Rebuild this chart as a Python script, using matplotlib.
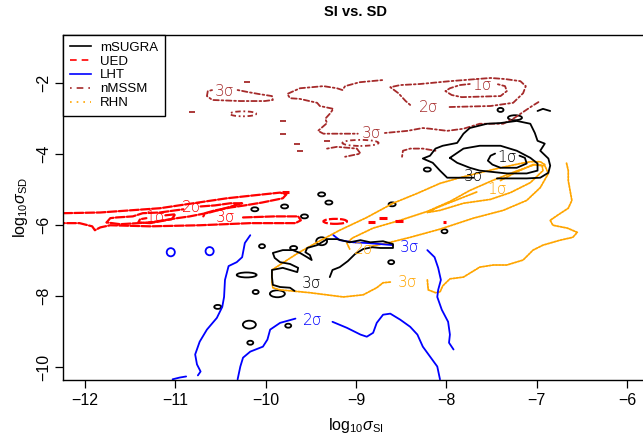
"""
SI vs. SD — confidence contours for five models, redrawn with matplotlib.
Contour paths are traced off the reference picture (data units: log10 sigma).
"""

import matplotlib
matplotlib.use("Agg")
import matplotlib.pyplot as plt
from matplotlib.lines import Line2D
from matplotlib.patches import Ellipse

plt.rcParams["font.family"] = ["Liberation Sans", "DejaVu Sans"]
plt.rcParams["mathtext.fontset"] = "custom"
plt.rcParams["mathtext.rm"] = "Liberation Sans"
plt.rcParams["mathtext.it"] = "Liberation Sans:italic"

MODELS = ["mSUGRA", "UED", "LHT", "nMSSM", "RHN"]
X_TICKS = [-12, -11, -10, -9, -8, -7, -6]
Y_TICKS = [-10, -8, -6, -4, -2]

# ---------------- UED (red) ----------------
ued_3s_a_x = [-12.24, -11.83, -11.17, -10.80, -10.43, -10.14, -9.84, -9.77, -9.81, -10.04, -10.23, -10.39, -10.56, -10.67, -10.69]
ued_3s_a_y = [-5.66, -5.64, -5.52, -5.38, -5.24, -5.16, -5.08, -5.13, -5.24, -5.36, -5.44, -5.50, -5.58, -5.66, -5.75]
ued_3s_b_x = [-10.25, -9.90, -9.64, -9.61, -9.67, -10.17, -10.73, -11.28, -11.72, -11.83, -11.89, -11.92, -12.06, -12.24]
ued_3s_b_y = [-5.78, -5.75, -5.75, -5.86, -5.94, -5.94, -6.00, -6.03, -6.00, -6.06, -6.14, -6.03, -5.94, -5.94]
ued_2s_a_x = [-11.76, -11.72, -11.65, -11.47, -11.36, -11.17, -11.00, -10.91]
ued_2s_a_y = [-5.92, -5.80, -5.78, -5.75, -5.66, -5.64, -5.58, -5.55]
ued_2s_b_x = [-10.72, -10.56, -10.39, -10.26, -10.42, -10.62, -10.84, -10.98, -11.28, -11.61, -11.76]
ued_2s_b_y = [-5.47, -5.44, -5.38, -5.38, -5.50, -5.64, -5.75, -5.80, -5.92, -5.97, -5.92]
ued_1s_x = [-11.11, -11.00, -11.04, -11.28, -11.41, -11.39, -11.32]
ued_1s_y = [-5.72, -5.69, -5.83, -5.94, -5.92, -5.83, -5.80]
ued_blob_x = [-9.23]
ued_blob_y = [-5.89]
ued_blob_w = [0.26]
ued_blob_h = [0.14]
ued_dash_x = [-8.83, -8.70, -8.52, -8.02, -9.78]
ued_dash_y = [-5.92, -5.80, -5.89, -5.92, -5.05]
ued_dash_len = [0.08, 0.09, 0.09, 0.04, 0.07]
ued_lab_x = [-11.22, -10.82, -10.44]
ued_lab_y = [-5.78, -5.50, -5.78]
ued_lab_txt = ["1σ", "2σ", "3σ"]

# ---------------- nMSSM (brown) ----------------
nm_3s_a_x = [-8.71, -8.96, -9.12, -9.15, -9.21, -9.36, -9.62, -9.76, -9.73, -9.62, -9.43, -9.40, -9.25, -9.29, -9.34, -9.32, -9.42, -9.36, -9.10, -8.98]
nm_3s_a_y = [-1.91, -1.97, -2.08, -2.19, -2.14, -2.08, -2.14, -2.30, -2.42, -2.44, -2.55, -2.64, -2.72, -2.86, -3.00, -3.12, -3.34, -3.42, -3.42, -3.42]
nm_3s_b_x = [-8.68, -8.43, -8.26, -8.18, -7.99, -7.81, -7.63, -7.37, -7.26, -7.15, -7.05, -6.98]
nm_3s_b_y = [-3.40, -3.34, -3.26, -3.28, -3.34, -3.28, -3.14, -3.14, -3.00, -2.81, -2.64, -2.53]
nm_3s_c_x = [-10.31, -10.19, -10.08, -9.93, -9.92, -10.01, -10.28, -10.59, -10.65, -10.64, -10.59]
nm_3s_c_y = [-2.19, -2.25, -2.30, -2.36, -2.47, -2.50, -2.50, -2.47, -2.36, -2.22, -2.19]
nm_2s_x = [-8.40, -8.45, -8.53, -8.62, -8.51, -8.29, -7.96, -7.51, -7.35, -7.18, -7.12, -7.15, -7.26, -7.51, -7.99]
nm_2s_y = [-2.61, -2.50, -2.28, -2.11, -2.05, -2.02, -1.94, -1.85, -1.88, -1.94, -2.08, -2.28, -2.55, -2.64, -2.67]
nm_1s_x = [-7.74, -7.85, -7.96, -8.01, -7.94, -7.83, -7.40, -7.33, -7.35, -7.44]
nm_1s_y = [-2.02, -2.05, -2.14, -2.22, -2.33, -2.39, -2.36, -2.22, -2.08, -2.02]
nm_small_x = [-9.32, -9.21, -8.99, -8.95, -9.12]
nm_small_y = [-3.84, -3.79, -3.84, -3.98, -4.07]
nm_lower_x = [-8.49, -8.48, -8.40, -8.26, -8.12]
nm_lower_y = [-4.07, -3.90, -3.84, -3.84, -3.90]
nm_blob_x = [-10.25, -8.95]
nm_blob_y = [-2.86, -3.68]
nm_blob_w = [0.29, 0.40]
nm_blob_h = [0.14, 0.17]
nm_dot_x = [-10.21, -10.82, -9.81, -9.81, -9.65, -9.62, -9.32]
nm_dot_y = [-1.97, -2.81, -3.06, -3.42, -3.70, -3.90, -3.62]
nm_lab_x = [-10.45, -8.83, -8.20, -7.60]
nm_lab_y = [-2.22, -3.42, -2.67, -2.05]
nm_lab_txt = ["3σ", "3σ", "2σ", "1σ"]

# ---------------- mSUGRA (black) ----------------
ms_3s_x = [-7.44, -7.11, -6.96, -6.87, -6.85, -6.87, -6.96, -6.91, -6.99, -7.02, -7.07, -7.22, -7.40, -7.55, -7.74, -7.81, -7.88, -8.04, -8.12, -8.18, -8.26, -8.15, -8.07, -7.99, -7.85, -7.70]
ms_3s_y = [-4.68, -4.68, -4.66, -4.52, -4.32, -4.12, -3.90, -3.70, -3.62, -3.40, -3.14, -3.06, -3.12, -3.14, -3.26, -3.42, -3.68, -3.76, -3.84, -4.04, -4.12, -4.24, -4.46, -4.66, -4.66, -4.66]
ms_2s_x = [-7.96, -7.81, -7.63, -7.40, -7.22, -7.07, -6.99, -6.99, -7.11, -7.33, -7.63, -7.74, -7.88, -7.96]
ms_2s_y = [-4.10, -3.84, -3.76, -3.76, -3.90, -4.10, -4.26, -4.46, -4.54, -4.54, -4.46, -4.38, -4.24, -4.10]
ms_1s_x = [-7.46, -7.51, -7.54, -7.49, -7.40, -7.22, -7.11, -7.13, -7.19]
ms_1s_y = [-3.98, -4.04, -4.18, -4.29, -4.38, -4.38, -4.26, -4.10, -4.04]
ms_right_x = [-6.99, -6.93, -6.85]
ms_right_y = [-2.78, -2.72, -2.78]
ms_mid_x = [-9.68, -9.73, -9.84, -9.92, -9.93, -9.93, -9.81, -9.73, -9.65, -9.64, -9.73, -9.84, -9.90, -9.92, -9.81, -9.70, -9.62, -9.54, -9.49, -9.51, -9.56, -9.54, -9.43, -9.32, -9.21, -9.07, -8.95, -8.84, -8.70, -8.59, -8.59, -8.73, -8.82, -8.92, -9.01, -9.09, -9.18, -9.26, -9.29]
ms_mid_y = [-7.85, -7.76, -7.74, -7.68, -7.46, -7.26, -7.20, -7.26, -7.32, -7.20, -7.09, -7.04, -6.92, -6.78, -6.70, -6.70, -6.78, -6.90, -6.98, -6.84, -6.76, -6.64, -6.56, -6.39, -6.39, -6.48, -6.42, -6.48, -6.45, -6.53, -6.64, -6.64, -6.62, -6.67, -6.81, -7.01, -7.18, -7.26, -7.46]
ms_blob_x = [-10.12, -9.79, -9.38, -9.30, -9.57, -8.60, -10.04, -9.69, -9.38, -10.21, -10.11, -9.87, -10.53, -10.18, -10.17, -9.75, -8.61, -8.02, -8.21, -7.40, -7.24]
ms_blob_y = [-5.55, -5.47, -5.13, -5.36, -5.75, -5.41, -6.59, -6.64, -6.45, -7.40, -7.88, -7.93, -8.30, -8.80, -9.31, -8.83, -7.04, -6.17, -4.43, -2.75, -2.97]
ms_blob_w = [0.078, 0.078, 0.078, 0.078, 0.078, 0.078, 0.066, 0.078, 0.12, 0.22, 0.066, 0.166, 0.078, 0.144, 0.066, 0.066, 0.066, 0.066, 0.078, 0.066, 0.155]
ms_blob_h = [0.112, 0.112, 0.112, 0.112, 0.112, 0.112, 0.112, 0.112, 0.224, 0.14, 0.112, 0.196, 0.112, 0.224, 0.112, 0.112, 0.112, 0.112, 0.112, 0.112, 0.14]
ms_lab_x = [-7.70, -7.33, -9.49]
ms_lab_y = [-4.64, -4.10, -7.65]
ms_lab_txt = ["3σ", "1σ", "3σ"]

# ---------------- RHN (orange) ----------------
rhn_3s_a_x = [-8.62, -8.70, -8.77, -8.92, -9.14, -9.51, -9.84, -9.92, -9.93, -9.93, -9.81, -9.64, -9.43, -9.18, -8.88, -8.59, -8.32, -8.07, -7.85, -7.63, -7.40, -7.18, -7.07, -6.96, -6.91]
rhn_3s_a_y = [-7.60, -7.62, -7.76, -7.96, -8.02, -7.90, -7.82, -7.76, -7.62, -7.26, -7.06, -6.78, -6.48, -6.14, -5.78, -5.38, -5.10, -4.82, -4.66, -4.52, -4.38, -4.26, -4.21, -4.21, -4.29]
rhn_3s_b_x = [-8.21, -8.20, -8.12, -8.07, -8.04, -7.96, -7.81, -7.63, -7.48, -7.33, -7.15, -7.04, -6.93, -6.74, -6.60, -6.55, -6.66, -6.82, -6.85, -6.77, -6.65, -6.61, -6.63, -6.65, -6.65, -6.67]
rhn_3s_b_y = [-7.54, -7.82, -7.90, -7.88, -7.71, -7.51, -7.46, -7.18, -7.12, -7.12, -6.98, -6.70, -6.56, -6.42, -6.34, -6.20, -6.08, -6.00, -5.86, -5.72, -5.52, -5.30, -5.02, -4.74, -4.46, -4.24]
rhn_2s_x = [-8.82, -8.62, -8.40, -8.07, -7.70, -7.37, -7.11, -6.96, -6.87, -6.91, -7.02, -7.24, -7.49, -7.74, -7.96, -8.21, -8.51, -8.81, -9.04, -9.10, -9.07]
rhn_2s_y = [-6.59, -6.48, -6.34, -6.11, -5.80, -5.58, -5.30, -4.94, -4.54, -4.32, -4.29, -4.49, -4.74, -5.02, -5.33, -5.61, -5.86, -6.08, -6.36, -6.50, -6.67]
rhn_1s_x = [-7.40, -7.24, -7.04, -6.94, -6.93, -7.07, -7.29, -7.51, -7.81, -8.07, -8.21, -8.10, -7.90, -7.65]
rhn_1s_y = [-4.74, -4.52, -4.29, -4.32, -4.46, -4.80, -5.08, -5.27, -5.38, -5.58, -5.64, -5.50, -5.30, -5.05]
rhn_lab_x = [-8.43, -8.92, -7.44]
rhn_lab_y = [-7.60, -6.67, -5.00]
rhn_lab_txt = ["3σ", "2σ", "1σ"]

# ---------------- LHT (blue) ----------------
lht_left_x = [-10.17, -10.23, -10.26, -10.32, -10.41, -10.45, -10.46, -10.48, -10.54, -10.65, -10.73, -10.78, -10.76, -10.72, -10.75]
lht_left_y = [-6.28, -6.50, -6.90, -7.04, -7.15, -7.54, -8.02, -8.30, -8.61, -8.94, -9.28, -9.64, -9.92, -10.12, -10.23]
lht_2s_a_x = [-10.31, -10.28, -10.25, -10.17, -10.03, -9.98, -9.95, -9.84, -9.67]
lht_2s_a_y = [-10.34, -9.98, -9.73, -9.56, -9.42, -9.22, -8.94, -8.75, -8.63]
lht_2s_b_x = [-9.26, -9.10, -8.95, -8.88, -8.81, -8.77, -8.70, -8.62, -8.51, -8.40, -8.32, -8.26, -8.18, -8.10, -8.07]
lht_2s_b_y = [-8.72, -8.89, -9.08, -9.14, -9.03, -8.75, -8.52, -8.49, -8.66, -8.86, -9.08, -9.42, -9.70, -9.98, -10.34]
lht_3s_a_x = [-9.25, -9.18, -9.03, -8.88, -8.73, -8.59]
lht_3s_a_y = [-6.28, -6.42, -6.48, -6.50, -6.53, -6.56]
lht_3s_b_x = [-8.21, -8.13, -8.09, -8.06, -8.09, -8.10, -8.05, -7.98, -7.96, -7.97, -7.92]
lht_3s_b_y = [-6.70, -6.90, -7.20, -7.54, -7.82, -8.02, -8.38, -8.72, -9.08, -9.31, -9.50]
lht_bit_x = [-11.03, -10.95, -10.88]
lht_bit_y = [-10.34, -10.29, -10.26]
lht_blob_x = [-11.05, -10.62]
lht_blob_y = [-6.76, -6.73]
lht_blob_w = [0.09, 0.09]
lht_blob_h = [0.23, 0.23]
lht_lab_x = [-9.48, -8.41]
lht_lab_y = [-8.69, -6.64]
lht_lab_txt = ["2σ", "3σ"]


STYLE = {
    "mSUGRA": dict(color="black", ls="-", lw=1.3),
    "UED":    dict(color="#FF0000", ls=(0, (4, 1)), lw=1.6),
    "LHT":    dict(color="#0000FF", ls="-", lw=1.3),
    "nMSSM":  dict(color="#A52A2A", ls=(0, (1, 1.5, 3, 1.5)), lw=1.3),
    "RHN":    dict(color="#FFA500", ls=(0, (1, 0.8)), lw=1.3),
}
LEGEND_LS = {
    "mSUGRA": "-", "UED": (0, (4, 3)), "LHT": "-",
    "nMSSM": (0, (1, 3, 4, 3)), "RHN": (0, (1, 3)),
}


def _draw(ax, model, lines, blobs=None, labels=None):
    st = STYLE[model]
    for xs, ys in lines:
        ax.plot(xs, ys, color=st["color"], ls=st["ls"], lw=st["lw"],
                solid_capstyle="round", dash_capstyle="round")
    if blobs is not None:
        bx, by, bw, bh = blobs
        for x, y, w, h in zip(bx, by, bw, bh):
            ax.add_patch(Ellipse((x, y), w, h, fill=False,
                                 edgecolor=st["color"], lw=st["lw"],
                                 ls=st["ls"] if model != "mSUGRA" else "-"))
    if labels is not None:
        lx, ly, lt = labels
        for x, y, t in zip(lx, ly, lt):
            ax.text(x, y, t, color=st["color"], fontsize=11,
                    ha="center", va="center", family="DejaVu Sans",
                    fontweight="light")


def main() -> None:
    fig = plt.figure(figsize=(6.43, 4.34), dpi=100)
    ax = fig.add_axes([0.0984, 0.1244, 0.9104, 0.7949])
    ax.set_xlim(-12.24, -5.76)
    ax.set_ylim(-10.36, -0.64)

    _draw(ax, "RHN",
          [(rhn_3s_a_x, rhn_3s_a_y), (rhn_3s_b_x, rhn_3s_b_y),
           (rhn_2s_x, rhn_2s_y), (rhn_1s_x, rhn_1s_y)],
          labels=(rhn_lab_x, rhn_lab_y, rhn_lab_txt))
    _draw(ax, "nMSSM",
          [(nm_3s_a_x, nm_3s_a_y), (nm_3s_b_x, nm_3s_b_y),
           (nm_3s_c_x, nm_3s_c_y), (nm_2s_x, nm_2s_y), (nm_1s_x, nm_1s_y),
           (nm_small_x, nm_small_y), (nm_lower_x, nm_lower_y)],
          blobs=(nm_blob_x, nm_blob_y, nm_blob_w, nm_blob_h),
          labels=(nm_lab_x, nm_lab_y, nm_lab_txt))
    ax.plot(nm_dot_x, nm_dot_y, ls="none", marker="_", ms=4, mew=1.3,
            color=STYLE["nMSSM"]["color"])
    _draw(ax, "UED",
          [(ued_3s_a_x, ued_3s_a_y), (ued_3s_b_x, ued_3s_b_y),
           (ued_2s_a_x, ued_2s_a_y), (ued_2s_b_x, ued_2s_b_y),
           (ued_1s_x, ued_1s_y)],
          blobs=(ued_blob_x, ued_blob_y, ued_blob_w, ued_blob_h),
          labels=(ued_lab_x, ued_lab_y, ued_lab_txt))
    for x, y, d in zip(ued_dash_x, ued_dash_y, ued_dash_len):
        ax.plot([x - d / 2, x + d / 2], [y, y], color=STYLE["UED"]["color"],
                lw=2.2, solid_capstyle="butt")
    _draw(ax, "LHT",
          [(lht_left_x, lht_left_y), (lht_2s_a_x, lht_2s_a_y),
           (lht_2s_b_x, lht_2s_b_y), (lht_3s_a_x, lht_3s_a_y),
           (lht_3s_b_x, lht_3s_b_y), (lht_bit_x, lht_bit_y)],
          blobs=(lht_blob_x, lht_blob_y, lht_blob_w, lht_blob_h),
          labels=(lht_lab_x, lht_lab_y, lht_lab_txt))
    _draw(ax, "mSUGRA",
          [(ms_3s_x, ms_3s_y), (ms_2s_x, ms_2s_y), (ms_1s_x, ms_1s_y),
           (ms_right_x, ms_right_y), (ms_mid_x, ms_mid_y)],
          blobs=(ms_blob_x, ms_blob_y, ms_blob_w, ms_blob_h),
          labels=(ms_lab_x, ms_lab_y, ms_lab_txt))

    ax.set_xticks(X_TICKS)
    ax.set_yticks(Y_TICKS)
    ax.set_xticklabels([f"\u2212{abs(v)}" for v in X_TICKS])
    ax.set_yticklabels([f"\u2212{abs(v)}" for v in Y_TICKS], rotation=90,
                       va="center")
    ax.tick_params(direction="out", length=6, width=0.9, labelsize=11.5,
                   pad=3)
    for sp in ax.spines.values():
        sp.set_linewidth(1.0)

    ax.set_xlabel(r"$\mathrm{log}_{10}\sigma_{\mathrm{SI}}$", fontsize=11.5,
                  labelpad=6)
    ax.set_ylabel(r"$\mathrm{log}_{10}\sigma_{\mathrm{SD}}$", fontsize=11.5,
                  labelpad=4)
    ax.set_title("SI vs. SD", fontsize=10.5, fontweight="bold", pad=14,
                 x=0.5)

    handles = [Line2D([], [], color=STYLE[m]["color"], ls=LEGEND_LS[m],
                      lw=1.2) for m in MODELS]
    leg = ax.legend(handles, MODELS, loc="upper left", fontsize=9.5,
                    frameon=True, fancybox=False, edgecolor="black",
                    framealpha=1, borderaxespad=0, borderpad=0.5,
                    handlelength=1.6, handletextpad=0.7, labelspacing=0.12)
    leg.get_frame().set_linewidth(1.0)

    fig.savefig("out.png", dpi=100)
    plt.close(fig)


if __name__ == "__main__":
    main()
